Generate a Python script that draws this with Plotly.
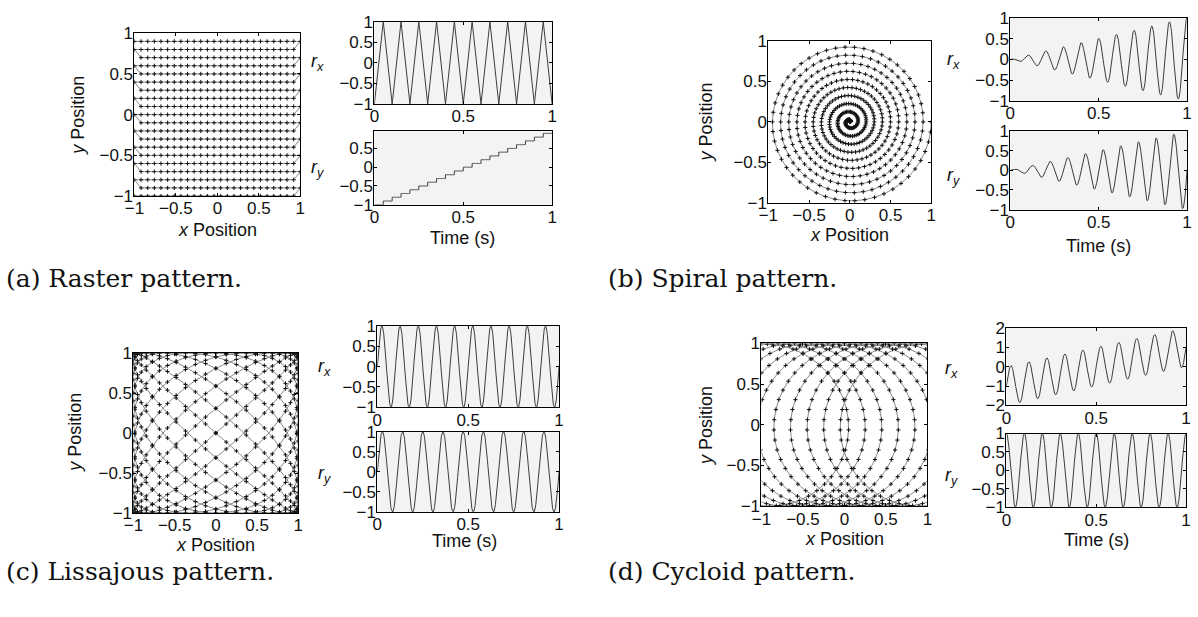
import numpy as np
import plotly.graph_objects as go

W, H = 1198, 617

# ---- scan-pattern definitions -------------------------------------------
SAMPLE_PERIOD = 0.002          # s between plotted samples
DURATION = 1.0                 # s

# (a) raster: triangle sweep in x, staircase in y
RASTER_LINE_TIME = 0.05        # s per horizontal line
RASTER_X_TURNS = [-1.0, 1.0, -1.0, 1.0, -1.0, 1.0, -1.0, 1.0, -1.0, 1.0, -1.0,
                  1.0, -1.0, 1.0, -1.0, 1.0, -1.0, 1.0, -1.0, 1.0, -1.0]
RASTER_Y_LEVELS = [-1.0, -0.9, -0.8, -0.7, -0.6, -0.5, -0.4, -0.3, -0.2, -0.1,
                   0.0, 0.1, 0.2, 0.3, 0.4, 0.5, 0.6, 0.7, 0.8, 0.9]

# (b) spiral: radius ramps linearly while rotating
SPIRAL_FREQ_HZ = 10.0
SPIRAL_RADIUS_START_END = [0.0, 1.0]

# (c) Lissajous: x and y frequencies
LISSAJOUS_FREQ_HZ = [10.0, 9.0]
LISSAJOUS_AMPLITUDE = [1.0, 1.0]

# (d) cycloid: circle of radius 1 drifting along x
CYCLOID_FREQ_HZ = 10.0
CYCLOID_RADIUS = 1.0
CYCLOID_CENTER_START_END = [-1.0, 1.0]

CAPTIONS = ["(a) Raster pattern.", "(b) Spiral pattern.",
            "(c) Lissajous pattern.", "(d) Cycloid pattern."]

# ---- signals -------------------------------------------------------------
t = np.arange(0.0, DURATION + SAMPLE_PERIOD / 2, SAMPLE_PERIOD)

turn_times = np.arange(len(RASTER_X_TURNS)) * RASTER_LINE_TIME
raster_x = np.interp(t, turn_times, RASTER_X_TURNS)
line_idx = np.minimum((t / RASTER_LINE_TIME + 1e-9).astype(int), len(RASTER_Y_LEVELS) - 1)
raster_y = np.asarray(RASTER_Y_LEVELS)[line_idx]

r0, r1 = SPIRAL_RADIUS_START_END
spiral_r = r0 + (r1 - r0) * t / DURATION
spiral_x = spiral_r * np.cos(2 * np.pi * SPIRAL_FREQ_HZ * t)
spiral_y = spiral_r * np.sin(2 * np.pi * SPIRAL_FREQ_HZ * t)

liss_x = LISSAJOUS_AMPLITUDE[0] * np.sin(2 * np.pi * LISSAJOUS_FREQ_HZ[0] * t)
liss_y = LISSAJOUS_AMPLITUDE[1] * np.sin(2 * np.pi * LISSAJOUS_FREQ_HZ[1] * t)

c0, c1 = CYCLOID_CENTER_START_END
cyc_center = c0 + (c1 - c0) * t / DURATION
cyc_x = cyc_center + CYCLOID_RADIUS * np.sin(2 * np.pi * CYCLOID_FREQ_HZ * t)
cyc_y = CYCLOID_RADIUS * np.cos(2 * np.pi * CYCLOID_FREQ_HZ * t)

# ---- layout helpers --------------------------------------------------------
SANS = "Liberation Sans, Arial, sans-serif"
SERIF = "DejaVu Serif, serif"
TICK_FONT = dict(family=SANS, size=17, color="#111")
SHADE = "#f3f3f3"

fig = go.Figure()
layout = dict(
    width=W, height=H, margin=dict(l=0, r=0, t=0, b=0),
    paper_bgcolor="white", plot_bgcolor="white", showlegend=False,
)
shapes, annotations = [], []


def fmt(v):
    s = ("%g" % v)
    return s.replace("-", "\u2212")


def add_axes(n, box, xr, yr, xt, yt):
    x0, x1, y0, y1 = box
    common = dict(showline=True, linecolor="black", linewidth=1, mirror="ticks",
                  ticks="inside", ticklen=3, tickcolor="black", showgrid=False,
                  zeroline=False, tickfont=TICK_FONT, ticklabelstandoff=-3)
    layout["xaxis%d" % n] = dict(domain=[x0 / W, x1 / W], range=xr, anchor="y%d" % n,
                                 tickvals=xt, ticktext=[fmt(v) for v in xt], **common)
    layout["yaxis%d" % n] = dict(domain=[1 - y1 / H, 1 - y0 / H], range=yr, anchor="x%d" % n,
                                 tickvals=yt, ticktext=[fmt(v) for v in yt], **common)


def shade(n):
    shapes.append(dict(type="rect", xref="x%d domain" % n, yref="y%d domain" % n,
                       x0=0, x1=1, y0=0, y1=1, fillcolor=SHADE, line_width=0,
                       layer="below"))


def text(x, y, s, size=18, angle=0, family=SANS, xanchor="center"):
    annotations.append(dict(x=x / W, y=1 - y / H, xref="paper", yref="paper",
                            text=s, showarrow=False, textangle=angle,
                            xanchor=xanchor, yanchor="middle",
                            font=dict(family=family, size=size, color="#111")))


def xy_trace(n, x, y):
    fig.add_trace(go.Scatter(x=x, y=y, xaxis="x%d" % n, yaxis="y%d" % n,
                             mode="lines+markers",
                             line=dict(color="#8a8a8a", width=1),
                             marker=dict(symbol="cross-thin", size=3,
                                         line=dict(color="#111", width=1)),
                             hoverinfo="skip"))


def time_trace(n, y, shape="linear"):
    fig.add_trace(go.Scatter(x=t, y=y, xaxis="x%d" % n, yaxis="y%d" % n,
                             mode="lines", line=dict(color="#3c3c3c", width=1, shape=shape),
                             hoverinfo="skip"))


POS = [-1, -0.5, 0, 0.5, 1]
TT = [0, 0.5, 1]
RX, RY = "<i>r</i><sub><i>x</i></sub>", "<i>r</i><sub><i>y</i></sub>"

# panel boxes in pixels: (left, right, top, bottom)
panels = [
    dict(xy=(126, 294, 25, 193), rx=(369, 549, 13, 98), ry=(369, 549, 126, 202),
         sig=(raster_x, raster_y), rxr=[-1, 1], rxt=POS, ryr=[-1, 0.96], ryt=[-1, -0.5, 0, 0.5],
         xt=(210, 228), yt=(68, 110), tt=(458, 236), rl=(311, 55, 165), cap=(-6, 278)),
    dict(xy=(768, 933, 33, 200), rx=(1013, 1192, 9, 95), ry=(1013, 1192, 126, 207),
         sig=(spiral_x, spiral_y), rxr=[-1, 1], rxt=POS, ryr=[-1, 1], ryt=POS,
         xt=(850, 233), yt=(705, 117), tt=(1102, 245), rl=(955, 53, 173), cap=(604, 278)),
    dict(xy=(125, 292, 355, 520), rx=(372, 556, 327, 411), ry=(372, 556, 436, 519),
         sig=(liss_x, liss_y), rxr=[-1, 1], rxt=POS, ryr=[-1, 1], ryt=POS,
         xt=(208, 553), yt=(65, 437), tt=(460, 549), rl=(318, 370, 480), cap=(-6, 580)),
    dict(xy=(761, 929, 345, 513), rx=(1009, 1191, 329, 409), ry=(1009, 1191, 438, 514),
         sig=(cyc_x, cyc_y), rxr=[-2, 2], rxt=[-2, -1, 0, 1, 2], ryr=[-1, 1], ryt=POS,
         xt=(845, 547), yt=(705, 430), tt=(1100, 548), rl=(953, 372, 482), cap=(604, 580)),
]

n = 0
for i, p in enumerate(panels):
    sx, sy = p["sig"]
    n += 1
    add_axes(n, p["xy"], [-1, 1], [-1, 1], POS, POS)
    xy_trace(n, sx, sy)
    n += 1
    add_axes(n, p["rx"], [0, 1], p["rxr"], TT, p["rxt"])
    shade(n)
    time_trace(n, sx)
    n += 1
    add_axes(n, p["ry"], [0, 1], p["ryr"], TT, p["ryt"])
    shade(n)
    time_trace(n, sy, shape="hv" if i == 0 else "linear")

    text(p["xt"][0], p["xt"][1], "<i>x</i> Position")
    text(p["yt"][0], p["yt"][1], "<i>y</i> Position", angle=-90)
    text(p["tt"][0], p["tt"][1], "Time (s)")
    text(p["rl"][0], p["rl"][1], RX, size=18)
    text(p["rl"][0], p["rl"][2], RY, size=18)
    text(p["cap"][0], p["cap"][1], CAPTIONS[i], size=25, family=SERIF, xanchor="left")

layout["shapes"] = shapes
layout["annotations"] = annotations
fig.update_layout(**layout)
fig.write_html("out.html")
